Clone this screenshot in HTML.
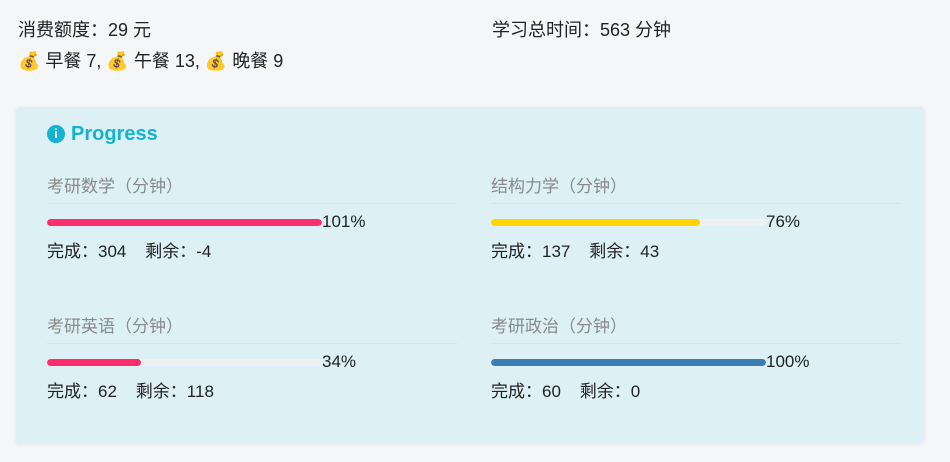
<!DOCTYPE html>
<html><head><meta charset="utf-8">
<style>
body{margin:0;width:950px;height:462px;background:#f4f6f8;font-family:"Liberation Sans","Noto Sans CJK SC",sans-serif;color:#222;position:relative;overflow:hidden}
.abs{position:absolute;white-space:nowrap}
.top{font-size:18px}
#card{position:absolute;left:16px;top:107px;width:908px;height:336px;background:#dcf0f6;border-radius:4px;box-shadow:0 1px 4px rgba(0,0,0,0.08)}
.lbl{font-size:17px;color:#8a8a8a;line-height:20px}
.sep{height:1px;background:#d0e6ec}
.track{height:7px;border-radius:4px;background:#eef0f2;overflow:hidden}
.fill{height:7px;border-radius:4px}
.pct{font-size:17px;line-height:20px}
.stat{font-size:17px;line-height:20px}
</style></head><body>
<div class="abs top" style="left:18px;top:16px">消费额度：29 元</div>
<div class="abs top" style="left:18px;top:47px">💰 早餐 7, 💰 午餐 13, 💰 晚餐 9</div>
<div class="abs top" style="left:492px;top:16px">学习总时间：563 分钟</div>
<div id="card">
  <div class="abs" style="left:31px;top:16px;font-size:20px;font-weight:bold;color:#14b3cf"><span style="display:inline-block;width:18px;height:18px;border-radius:50%;background:#14b3cf;color:#fff;font-size:13px;text-align:center;line-height:18px;vertical-align:2px;margin-right:6px">i</span>Progress</div>
</div>
<script>
const subjects=["考研数学（分钟）","结构力学（分钟）","考研英语（分钟）","考研政治（分钟）"];
const done=[304,137,62,60];
const remain=[-4,43,118,0];
const percents=[101,76,34,100];
const colors=["#ff2d6b","#ffd400","#ff2d6b","#3b7db5"];
const card=document.getElementById('card');
subjects.forEach((s,i)=>{
  const x=(i%2?475:31), y=(i<2?0:140);
  const g=document.createElement('div');
  g.className='abs';g.style.left=x+'px';g.style.top=(y+70)+'px';
  
  
  const w=275, pw=Math.min(percents[i],100)/100*w;
  g.innerHTML='<div class="lbl">'+s+'</div>'+
   '<div class="sep" style="width:410px;margin-top:6px"></div>'+
   '<div style="position:relative;height:22px;margin-top:10px">'+
   '<div class="track abs" style="left:0;top:5px;width:'+w+'px"><div class="fill" style="width:'+pw+'px;background:'+colors[i]+'"></div></div>'+
   '<div class="pct abs" style="left:'+w+'px;top:-2px">'+percents[i]+'%</div></div>'+
   '<div class="stat" style="margin-top:6px">完成：'+done[i]+'&nbsp;&nbsp;&nbsp;&nbsp;剩余：'+remain[i]+'</div>';
  card.appendChild(g);
});
</script>
</body></html>
